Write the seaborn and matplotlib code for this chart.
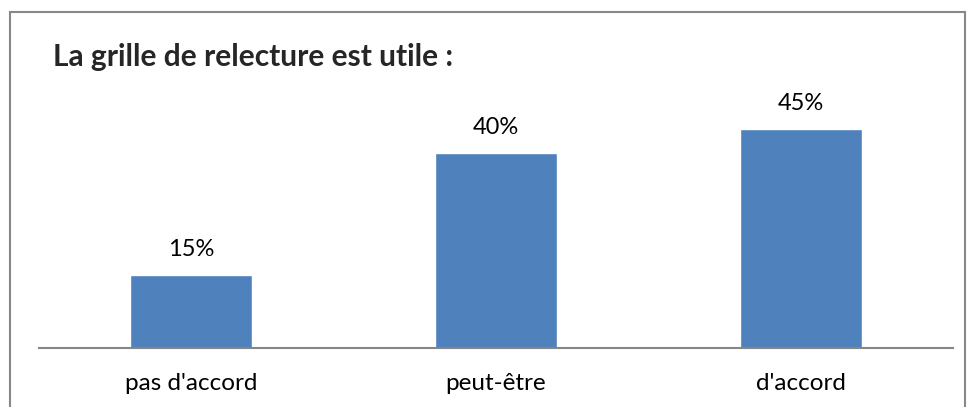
import matplotlib
matplotlib.use('Agg')
import matplotlib.pyplot as plt
import seaborn as sns
import pandas as pd
from matplotlib.patches import Rectangle

categories = ["pas d'accord", "peut-être", "d'accord"]
values = [15, 40, 45]
title = "La grille de relecture est utile :"

df = pd.DataFrame({'cat': categories, 'val': values})

sns.set_style("white")
plt.rcParams['font.family'] = ['Lato', 'DejaVu Sans']

fig = plt.figure(figsize=(9.68, 4.07), dpi=100)
W, H = 968, 407
ax = fig.add_axes([39 / W, (H - 348) / H, 914 / W, (348 - 104.6) / H])

sns.barplot(data=df, x='cat', y='val', color='#4F81BD', saturation=1,
            width=0.4, ax=ax)
ax.set_ylim(0, 50)
ax.set_xlim(-0.5, 2.5)

for i, v in enumerate(values):
    ax.annotate(f"{v}%", (i, v), xytext=(0, 11), textcoords='offset points',
                ha='center', va='bottom', fontsize=17, color='black')

for s in ['top', 'left', 'right']:
    ax.spines[s].set_visible(False)
ax.spines['bottom'].set_color('#868686')
ax.spines['bottom'].set_linewidth(1.5)
ax.set_yticks([])
ax.set_xlabel('')
ax.set_ylabel('')
ax.tick_params(axis='x', length=0, labelsize=17.5, pad=18, colors='black')

fig.text(53 / W, (H - 57) / H, title, fontsize=21.5, fontweight='bold',
         ha='left', va='center')

fig.patches.append(Rectangle((10 / W, -0.1), 955 / W, (H - 12) / H + 0.1,
                             transform=fig.transFigure, fill=False,
                             edgecolor='#888888', linewidth=1.5))

fig.savefig('out.png', dpi=100)
